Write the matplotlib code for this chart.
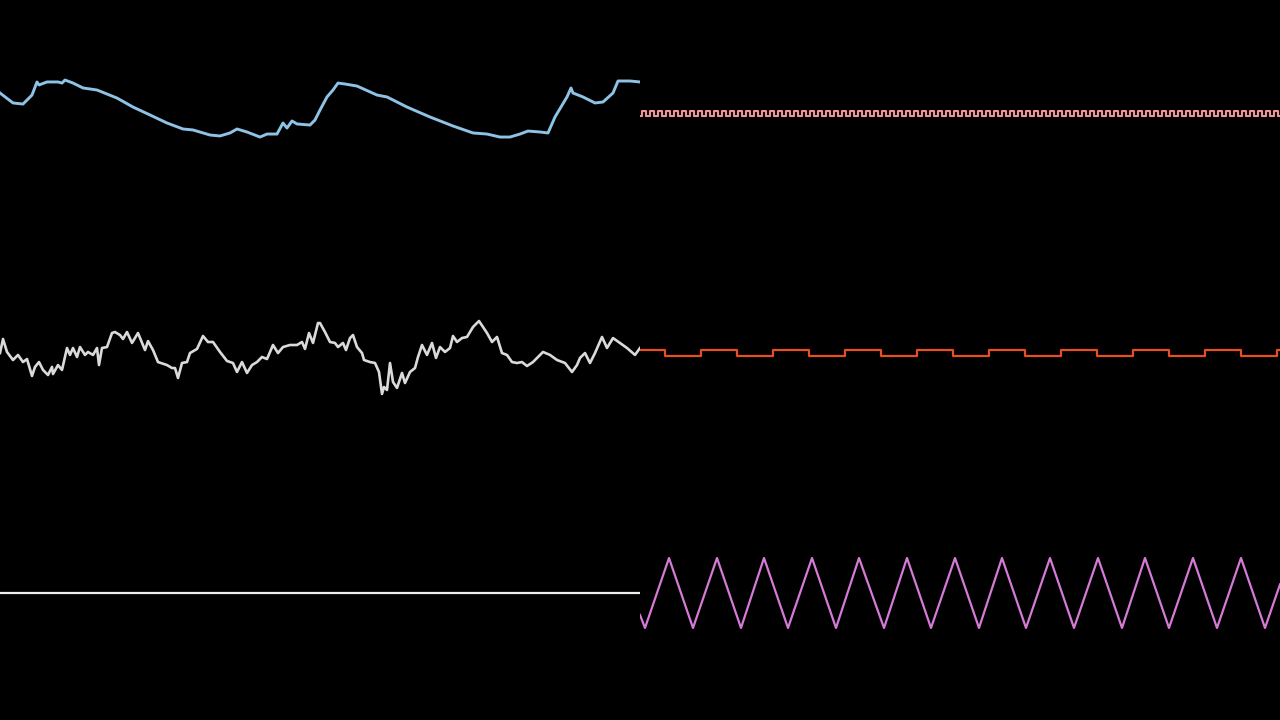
import numpy as np
import matplotlib
matplotlib.use('Agg')
import matplotlib.pyplot as plt

# --- data (amplitude per panel, time in samples 0..640) ---
blue_t = [0, 13, 23, 32, 37, 39, 47, 58, 62, 65, 73, 83, 97, 117, 133, 150, 167, 183, 193,
          210, 220, 230, 237, 247, 260, 267, 277, 283, 287, 292, 297, 310, 315, 320, 327, 333,
          338, 345, 357, 377, 387, 407, 430, 453, 473, 487, 500, 510, 520, 528, 540, 548, 555,
          567, 571, 573, 583, 595, 603, 613, 618, 630, 640]
blue_v = [0.225, 0.142, 0.133, 0.208, 0.317, 0.292, 0.317, 0.317, 0.308, 0.333, 0.308, 0.267,
          0.25, 0.183, 0.108, 0.042, -0.025, -0.075, -0.083, -0.125, -0.133, -0.108, -0.075,
          -0.1, -0.142, -0.117, -0.117, -0.025, -0.067, -0.008, -0.033, -0.042, 0.0, 0.083,
          0.192, 0.25, 0.308, 0.3, 0.283, 0.208, 0.192, 0.108, 0.025, -0.05, -0.108, -0.117,
          -0.142, -0.142, -0.117, -0.092, -0.1, -0.108, 0.025, 0.192, 0.267, 0.225, 0.192,
          0.142, 0.15, 0.225, 0.325, 0.325, 0.317]

grey_t = [0, 3, 7, 13, 18, 23, 27, 32, 35, 39, 43, 48, 52, 53, 58, 62, 67, 70, 73, 77, 80, 85,
          88, 93, 97, 99, 102, 107, 112, 115, 120, 123, 127, 132, 138, 145, 148, 153, 158, 167,
          172, 175, 178, 182, 187, 190, 197, 203, 208, 213, 220, 227, 233, 237, 242, 247, 252,
          257, 262, 267, 273, 278, 283, 290, 297, 302, 305, 309, 313, 318, 320, 325, 330, 335,
          338, 343, 346, 350, 353, 357, 362, 364, 370, 375, 379, 382, 384, 387, 390, 393, 397,
          402, 405, 410, 415, 418, 422, 427, 432, 436, 440, 445, 450, 453, 457, 462, 467, 473,
          479, 483, 487, 492, 497, 502, 507, 512, 517, 522, 527, 533, 543, 550, 557, 565, 572,
          577, 580, 585, 590, 595, 602, 607, 613, 620, 627, 635, 640]
grey_v = [0.058, 0.175, 0.067, 0.0, 0.042, -0.017, 0.008, -0.133, -0.058, -0.017, -0.083,
          -0.125, -0.058, -0.117, -0.042, -0.083, 0.1, 0.042, 0.1, 0.025, 0.108, 0.042, 0.067,
          0.042, 0.1, -0.042, 0.1, 0.108, 0.225, 0.233, 0.208, 0.175, 0.233, 0.142, 0.225,
          0.083, 0.158, 0.083, -0.017, -0.042, -0.067, -0.067, -0.15, -0.025, -0.017, 0.058,
          0.092, 0.2, 0.15, 0.15, 0.067, -0.008, -0.025, -0.1, -0.017, -0.108, -0.042, -0.017,
          0.025, 0.008, 0.125, 0.058, 0.108, 0.125, 0.125, 0.15, 0.092, 0.225, 0.142, 0.308,
          0.308, 0.233, 0.15, 0.142, 0.108, 0.142, 0.083, 0.183, 0.208, 0.108, 0.058, 0.0,
          -0.017, -0.025, -0.1, -0.283, -0.225, -0.25, -0.025, -0.183, -0.233, -0.108, -0.192,
          -0.1, -0.067, 0.025, 0.125, 0.042, 0.142, 0.017, 0.108, 0.067, 0.1, 0.2, 0.15, 0.183,
          0.192, 0.275, 0.325, 0.275, 0.225, 0.15, 0.192, 0.058, 0.042, -0.017, -0.025,
          -0.017, -0.05, -0.017, 0.067, 0.042, 0.0, -0.025, -0.1, -0.042, 0.017, 0.058,
          -0.025, 0.058, 0.192, 0.1, 0.183, 0.142, 0.1, 0.042, 0.1]

flat_level = 0.058

# pink square wave: one cycle of 8 samples, repeated
pink_cycle = [0.033, 0.033, 0.075, 0.075, 0.075, 0.075, 0.033, 0.033]
pink_cycles = 80

# orange square wave: switching times and levels
orange_edges = [0, 25, 61, 97, 133, 169, 205, 241, 277, 313, 349, 385, 421, 457, 493, 529,
                565, 601, 637, 640]
orange_hi, orange_lo = 0.083, 0.033

# violet triangle: vertices
tri_t = [0, 5, 29, 53, 77, 101, 124, 148, 172, 196, 219, 244, 267, 291, 315, 339, 362, 386,
         410, 434, 458, 482, 505, 529, 553, 577, 601, 625, 640]
tri_v = [-0.125, -0.233, 0.35, -0.233, 0.35, -0.233, 0.35, -0.233, 0.35, -0.233, 0.35, -0.233,
         0.35, -0.233, 0.35, -0.233, 0.35, -0.233, 0.35, -0.233, 0.35, -0.233, 0.35, -0.233,
         0.35, -0.233, 0.35, -0.233, 0.13]

fig = plt.figure(figsize=(12.8, 7.2), dpi=100, facecolor='black')

def panel(row, col):
    ax = fig.add_axes([col * 0.5, 1 - (row + 1) / 3, 0.5, 1 / 3])
    ax.set_facecolor('black')
    ax.set_xlim(0, 640)
    ax.set_ylim(-1, 1)
    ax.axis('off')
    return ax

# row 1
ax = panel(0, 0)
ax.plot(blue_t, blue_v, color='#8fc3e6', lw=2.1, solid_joinstyle='round')
ax = panel(0, 1)
pink_v = np.tile(pink_cycle, pink_cycles)
ax.step(np.arange(len(pink_v) + 1), np.append(pink_v, pink_v[-1]), where='post',
        color='#ec9498', lw=1.5)

# row 2
ax = panel(1, 0)
ax.plot(grey_t, grey_v, color='#dadada', lw=1.9)
ax = panel(1, 1)
ov = [orange_hi if i % 2 == 0 else orange_lo for i in range(len(orange_edges) - 1)]
ax.step(orange_edges, ov + [ov[-1]], where='post', color='#e6501e', lw=1.6)

# row 3
ax = panel(2, 0)
ax.plot([0, 640], [flat_level, flat_level], color='#eeeeee', lw=1.6)
ax = panel(2, 1)
ax.plot(tri_t, tri_v, color='#d67ad8', lw=1.6)

fig.savefig('out.png', dpi=100, facecolor='black')
